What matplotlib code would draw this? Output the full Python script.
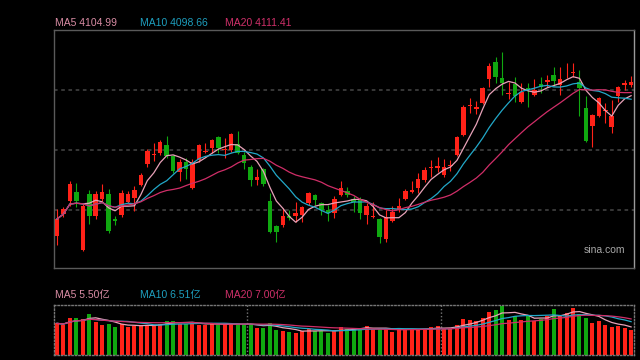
import numpy as np
import pandas as pd
import matplotlib
matplotlib.use("Agg")
import matplotlib.pyplot as plt

# daily candles (index points)
opens = [3808.6, 3854.8, 3882.1, 3901.0, 3779.2, 3896.8, 3850.6, 3886.3, 3896.8, 3844.3,
         3852.7, 3880.0, 3888.4, 3915.7, 3959.8, 3977.7, 3982.9, 3999.7, 3976.6, 3943.0,
         3964.0, 3909.4, 3968.2, 3985.0, 3993.4, 4016.5, 3988.2, 3989.2, 4001.8, 3978.7,
         3953.5, 3926.2, 3949.3, 3882.1, 3829.6, 3831.7, 3850.6, 3850.6, 3852.7, 3877.9,
         3894.7, 3877.9, 3863.2, 3856.9, 3894.7, 3903.1, 3886.3, 3886.3, 3852.7, 3847.5,
         3844.3, 3802.3, 3840.1, 3863.2, 3886.3, 3901.0, 3909.4, 3926.2, 3950.4, 3951.4,
         3936.7, 3955.6, 3978.7, 4020.7, 4080.6, 4075.3, 4087.9, 4138.3, 4174.0, 4140.4,
         4106.8, 4127.8, 4090.0, 4119.4, 4104.7, 4127.8, 4132.0, 4146.7, 4125.7, 4152.0,
         4150.9, 4132.0, 4077.4, 4039.6, 4060.6, 4070.1, 4037.5, 4102.6, 4125.7, 4125.7]
highs = [3865.3, 3869.5, 3924.1, 3919.9, 3877.9, 3905.2, 3903.1, 3917.8, 3907.3, 3850.6,
         3905.2, 3903.1, 3913.6, 3940.9, 3991.3, 4003.9, 4010.2, 4018.6, 3978.7, 3970.3,
         3972.4, 3970.3, 4001.8, 4003.9, 4012.3, 4018.6, 4014.4, 4024.9, 4029.1, 3985.0,
         3957.7, 3949.3, 3951.4, 3898.9, 3831.7, 3867.4, 3863.2, 3880.0, 3871.6, 3901.0,
         3896.8, 3880.0, 3873.7, 3892.6, 3924.1, 3911.5, 3892.6, 3890.5, 3877.9, 3880.0,
         3846.4, 3863.2, 3871.6, 3888.4, 3907.3, 3924.1, 3940.9, 3953.5, 3968.2, 3974.5,
         3970.3, 3968.2, 4018.6, 4083.7, 4098.4, 4092.1, 4121.5, 4171.9, 4184.5, 4195.0,
         4132.0, 4142.5, 4129.9, 4129.9, 4138.3, 4142.5, 4146.7, 4163.5, 4163.5, 4171.9,
         4171.9, 4157.2, 4102.6, 4064.8, 4100.5, 4087.9, 4094.2, 4123.6, 4136.2, 4144.6]
lows = [3789.7, 3848.5, 3871.6, 3869.5, 3777.1, 3833.8, 3844.3, 3882.1, 3814.9, 3831.7,
        3848.5, 3877.9, 3861.1, 3913.6, 3953.5, 3966.1, 3978.7, 3972.4, 3940.9, 3924.1,
        3928.3, 3907.3, 3964.0, 3982.9, 3982.9, 3982.9, 3972.4, 3985.0, 3980.8, 3949.3,
        3913.6, 3915.7, 3913.6, 3814.9, 3796.0, 3827.5, 3842.2, 3838.0, 3838.0, 3873.7,
        3873.7, 3852.7, 3840.1, 3846.4, 3892.6, 3890.5, 3859.0, 3844.3, 3833.8, 3846.4,
        3793.9, 3796.0, 3838.0, 3859.0, 3884.2, 3898.9, 3898.9, 3922.0, 3932.5, 3943.0,
        3932.5, 3945.1, 3976.6, 4018.6, 4066.9, 4064.8, 4085.8, 4121.5, 4129.9, 4104.7,
        4096.3, 4090.0, 4087.9, 4079.5, 4102.6, 4108.9, 4121.5, 4123.6, 4104.7, 4140.4,
        4142.5, 4060.6, 4006.0, 3995.5, 4058.5, 4045.9, 4024.9, 4090.0, 4115.2, 4121.5]
closes = [3844.3, 3865.3, 3917.8, 3882.1, 3871.6, 3850.6, 3896.8, 3901.0, 3819.1, 3840.1,
          3898.9, 3896.8, 3905.2, 3936.7, 3987.1, 3979.8, 4006.0, 3976.6, 3945.1, 3964.0,
          3949.3, 3964.0, 3999.7, 3987.1, 4010.2, 3993.4, 3990.3, 4022.8, 3982.9, 3961.9,
          3926.2, 3932.5, 3917.8, 3817.0, 3817.0, 3850.6, 3846.4, 3856.9, 3869.5, 3898.9,
          3884.2, 3863.2, 3856.9, 3886.3, 3909.4, 3894.7, 3880.0, 3856.9, 3871.6, 3849.6,
          3806.5, 3848.5, 3859.0, 3871.6, 3903.1, 3905.2, 3928.3, 3947.2, 3953.5, 3955.6,
          3953.5, 3957.7, 4016.5, 4079.5, 4082.7, 4079.5, 4119.4, 4165.6, 4142.5, 4129.9,
          4108.9, 4102.6, 4111.0, 4115.2, 4115.2, 4121.5, 4136.2, 4134.1, 4138.3, 4154.0,
          4153.0, 4119.4, 4008.1, 4062.7, 4098.4, 4072.2, 4060.6, 4121.5, 4129.9, 4132.0]
# volume in 亿
volumes = [6.17, 5.91, 7.29, 7.29, 7.09, 8.08, 6.50, 5.91, 6.11, 5.52,
           6.11, 5.52, 5.71, 5.71, 5.91, 5.91, 6.11, 6.70, 6.70, 6.11,
           6.11, 6.30, 5.91, 5.91, 6.11, 5.91, 6.11, 6.11, 5.91, 5.91,
           6.11, 5.32, 5.32, 6.30, 4.93, 4.73, 4.53, 4.33, 4.73, 5.12,
           4.73, 4.73, 4.33, 4.73, 5.52, 5.12, 5.12, 5.12, 5.71, 5.12,
           5.12, 5.12, 4.53, 5.12, 5.12, 5.12, 4.93, 4.93, 5.52, 5.71,
           5.12, 5.12, 5.91, 7.09, 6.90, 6.70, 7.29, 8.47, 8.87, 9.65,
           6.90, 7.68, 6.90, 7.68, 6.70, 7.09, 7.68, 9.06, 7.68, 8.27,
           9.26, 8.08, 7.29, 6.30, 6.70, 5.91, 5.52, 5.71, 5.32, 4.93]

ma_windows = [5, 10, 20]
price_labels = ["MA5 4104.99", "MA10 4098.66", "MA20 4111.41"]
vol_labels = ["MA5 5.50亿", "MA10 6.51亿", "MA20 7.00亿"]
grid_levels = [3863.2, 3989.2, 4115.2]
month_breaks = [29.5, 59.5]

RED = "#ff2218"
GREEN = "#10a810"
MA_COLORS = ["#e8a2b8", "#22a8c8", "#d02e68"]
TXT_COLORS = ["#d98ca4", "#1e9fbf", "#d0306a"]
FONT = ["Liberation Sans", "Noto Sans CJK SC", "DejaVu Sans"]

o = np.array(opens)
c = np.array(closes)
x = np.arange(len(c))
colors = np.where(c >= o, RED, GREEN)

fig = plt.figure(figsize=(6.4, 3.6), dpi=100, facecolor="black")
ax = fig.add_axes([54 / 640, 1 - 268 / 360, 580 / 640, 238 / 360], facecolor="black")
axv = fig.add_axes([54 / 640, 1 - 355 / 360, 580 / 640, 50 / 360], facecolor="black")

# price panel
for lvl in grid_levels:
    ax.axhline(lvl, color="#3c3c3c", linestyle=(0, (2, 2)), linewidth=1.3, zorder=0)
ax.vlines(x, lows, highs, colors=colors, linewidth=0.8, zorder=2)
ax.bar(x, np.maximum(np.abs(c - o), 1.6), bottom=np.minimum(o, c), width=0.7,
       color=colors, linewidth=0, zorder=3)
for w, col in zip(ma_windows, MA_COLORS):
    ma = pd.Series(c).rolling(w, min_periods=1).mean()
    ax.plot(x, ma, color=col, linewidth=0.9, zorder=4)
ax.set_xlim(-0.47, 89.45)
ax.set_ylim(3741.4, 4241.2)
ax.set_xticks([])
ax.set_yticks([])
for s in ax.spines.values():
    s.set_color("#5a5a5a")
    s.set_linewidth(1)
ax.spines["right"].set_color("#9a9a9a")
ax.text(0.985, 0.075, "sina.com", transform=ax.transAxes, ha="right", va="center",
        color="#a8a8a8", fontsize=7.5, family=FONT)

# volume panel
axv.bar(x, volumes, width=0.62, color=colors, linewidth=0, zorder=2)
for w, col in zip(ma_windows, MA_COLORS):
    vma = pd.Series(volumes).rolling(w, min_periods=1).mean()
    axv.plot(x, vma, color=col, linewidth=0.9, zorder=3)
for b in month_breaks:
    axv.axvline(b, color="#777777", linestyle=(0, (1, 1.5)), linewidth=1, zorder=1)
axv.set_xlim(-0.47, 89.45)
axv.set_ylim(0, 9.75)
axv.set_xticks([])
axv.set_yticks([])
for s in axv.spines.values():
    s.set_color("#777777")
    s.set_linestyle((0, (1, 1.5)))
    s.set_linewidth(1)

# MA legends
for i, (lab, col) in enumerate(zip(price_labels, TXT_COLORS)):
    fig.text((55 + 85 * i) / 640, 1 - 23 / 360, lab, color=col, fontsize=7.5,
             va="center", ha="left", family=FONT)
for i, (lab, col) in enumerate(zip(vol_labels, TXT_COLORS)):
    fig.text((55 + 85 * i) / 640, 1 - 295 / 360, lab, color=col, fontsize=7.5,
             va="center", ha="left", family=FONT)

fig.savefig("out.png", dpi=100, facecolor="black")
